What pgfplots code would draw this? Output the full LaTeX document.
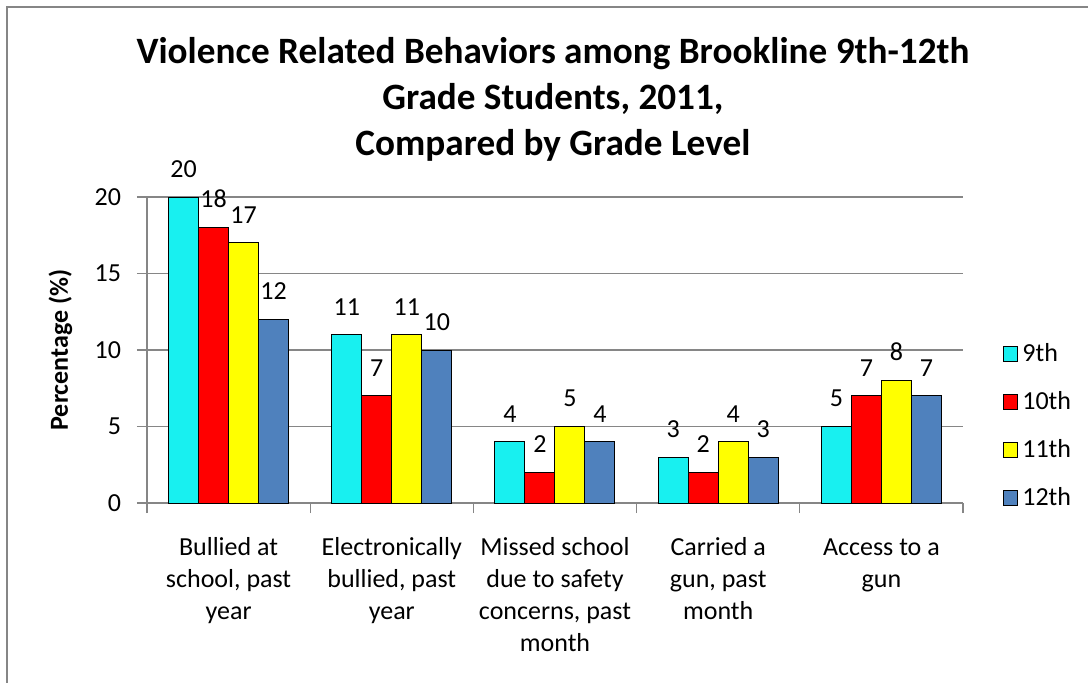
\documentclass[border=0pt]{standalone}
\usepackage{fontspec}
\setmainfont{Carlito}
\usepackage{pgfplots}
\pgfplotsset{compat=1.18}
\definecolor{c9}{RGB}{24,240,240}
\definecolor{c10}{RGB}{255,0,0}
\definecolor{c11}{RGB}{255,255,0}
\definecolor{c12}{RGB}{79,129,189}
\definecolor{gridgray}{RGB}{134,134,134}
\begin{document}
\begin{tikzpicture}
\begin{axis}[
  scale only axis,
  width=408pt, height=153pt,
  xmin=-0.5, xmax=4.5, ymin=0, ymax=20,
  ybar=0pt, bar width=15pt,
  axis x line*=bottom, axis y line*=left,
  axis line style={draw=gridgray, line width=0.6pt, -},
  ymajorgrids, major grid style={draw=gridgray, line width=0.6pt},
  ytick={0,5,10,15,20},
  /pgf/number format/assume math mode=true,
  tick style={draw=gridgray, line width=0.6pt},
  y tick label style={font=\fontsize{13}{16}\selectfont, xshift=-4.5pt},
  ytick align=outside, major tick length=5pt,
  xtick={0,1,2,3,4},
  x tick style={draw=none},
  xticklabels={{\strut Bullied at\\school, past\\year},{\strut Electronically\\bullied, past\\year},{\strut Missed school\\due to safety\\concerns, past\\month},{\strut Carried a\\gun, past\\month},{\strut Access to a\\gun}},
  x tick label style={font=\fontsize{13}{16}\selectfont, align=center, anchor=north, yshift=-6.5pt},
  extra x ticks={-0.5,0.5,1.5,2.5,3.5,4.5},
  extra x tick labels={},
  extra x tick style={x tick style={draw=gridgray, line width=0.6pt}, tick align=outside, grid=none},
  ylabel={\textbf{Percentage (\%)}},
  ylabel style={font=\fontsize{13}{16}\selectfont, at={(axis description cs:-0.106,0.5)}, anchor=center, rotate=0},
  title={Violence Related Behaviors among Brookline 9th-12th\\Grade Students, 2011,\\Compared by Grade Level},
  title style={font=\bfseries\fontsize{18.6}{23}\selectfont, align=center, at={(axis description cs:0.4975,1)}, anchor=south, inner sep=0pt, yshift=11.5pt},
  nodes near coords,
  every node near coord/.append style={font=\fontsize{13}{16}\selectfont, anchor=south, inner sep=0pt, yshift=9.5pt},
  legend style={at={(axis description cs:1.048,0.535)}, anchor=north west, draw=none, fill=none, font=\fontsize{13}{16}\selectfont, row sep=9.5pt, inner sep=0pt},
  legend cell align=left,
  legend image code/.code={\draw[#1, draw=black, line width=0.5pt] (0pt,-3.7pt) rectangle (7.4pt,3.7pt);},
  clip=false,
]
\addplot[fill=c9, draw=black, line width=0.5pt] coordinates {(0,20) (1,11) (2,4) (3,3) (4,5)};
\addplot[fill=c10, draw=black, line width=0.5pt] coordinates {(0,18) (1,7) (2,2) (3,2) (4,7)};
\addplot[fill=c11, draw=black, line width=0.5pt] coordinates {(0,17) (1,11) (2,5) (3,4) (4,8)};
\addplot[fill=c12, draw=black, line width=0.5pt] coordinates {(0,12) (1,10) (2,4) (3,3) (4,7)};
\legend{9th,10th,11th,12th}
\end{axis}
\pgfresetboundingbox
\useasboundingbox (-73.5pt,-89.5pt) rectangle (470.5pt,251.5pt);
\draw[gridgray, line width=1pt] (-70pt,-95pt) -- (-70pt,248pt) -- (480pt,248pt);
\end{tikzpicture}
\end{document}
